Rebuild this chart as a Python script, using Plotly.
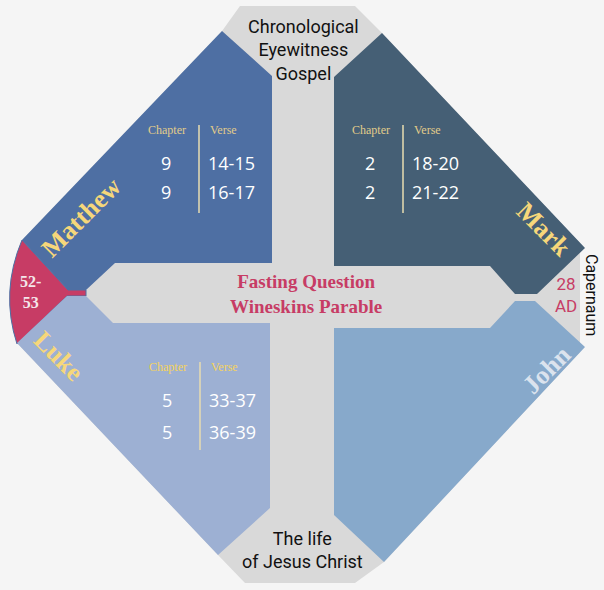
import plotly.graph_objects as go

# gospel passages: the fasting question / wineskins parable
gospels = ["Matthew", "Mark", "Luke", "John"]
chapters = {"Matthew": ["9", "9"], "Mark": ["2", "2"], "Luke": ["5", "5"]}
verses = {"Matthew": ["14-15", "16-17"], "Mark": ["18-20", "21-22"], "Luke": ["33-37", "36-39"]}
top_label = ["Chronological", "Eyewitness", "Gospel"]
bottom_label = ["The life", "of Jesus Christ"]
center_label = ["Fasting Question", "Wineskins Parable"]
date_left = ["52-", "53"]
date_right = ["28", "AD"]
place = "Capernaum"

BG = "#f5f5f5"
GRAY = "#d9d9d9"
RED = "#c73c65"
colors = {"Matthew": "#4e6fa3", "Mark": "#455f75", "Luke": "#9db0d3", "John": "#87a9cb"}
GOLD = "#f6d77a"

# outline geometry in page pixels
poly = {
    "gray": [(240, 6), (355, 6), (382, 33), (580, 243), (580, 352), (384, 562),
             (355, 583), (245, 583), (218, 555), (17, 343), (22, 240), (222, 31)],
    "Matthew": [(222, 31), (272, 76), (272, 263), (115, 263), (86, 290), (68, 290), (22, 240)],
    "Mark": [(382, 33), (585, 248), (537, 294), (515, 294), (490, 266), (334, 266), (334, 77)],
    "Luke": [(17, 343), (67, 296), (86, 296), (113, 323), (270, 323), (270, 508), (218, 555)],
    "John": [(334, 328), (490, 328), (515, 301), (535, 301), (585, 347), (384, 562), (334, 515)],
}


def path(pts):
    return "M " + " L ".join(f"{x},{y}" for x, y in pts) + " Z"


fig = go.Figure()
fig.add_trace(go.Scatter(x=[0, 604], y=[0, 590], mode="markers", marker=dict(opacity=0),
                         hoverinfo="skip", showlegend=False))

shapes = [dict(type="path", path=path(poly["gray"]), fillcolor=GRAY, line=dict(width=0), layer="below")]
# red date wedge on the left
shapes.append(dict(type="path", path="M 22,240 Q 0,292 17,344 L 67,296 L 86,296 L 86,290 L 68,290 Z",
                   fillcolor=RED, line=dict(color="#4e6fa3", width=1), layer="below"))
for g in gospels:
    shapes.append(dict(type="path", path=path(poly[g]), fillcolor=colors[g], line=dict(width=0), layer="below"))

# chapter / verse separators
table_pos = {"Matthew": (199, 125, 213), "Mark": (403, 125, 213), "Luke": (200, 362, 450)}
for g, (x, y0, y1) in table_pos.items():
    shapes.append(dict(type="line", x0=x, x1=x, y0=y0, y1=y1, line=dict(color="#e8dcb0", width=1.5)))

ann = []


def txt(x, y, s, size, color, family="Liberation Serif", angle=0, bold=False):
    if bold:
        s = f"<b>{s}</b>"
    ann.append(dict(x=x, y=y, text=s, showarrow=False, textangle=angle,
                    font=dict(size=size, color=color, family=family),
                    xanchor="center", yanchor="middle"))


sans = "Roboto"
txt(303, 50, "<br>".join(top_label), 18, "#111111", sans)
txt(302, 550, "<br>".join(bottom_label), 18, "#111111", sans)
txt(306, 294, "<br>".join(center_label), 19, RED, bold=True)
txt(30, 292, "<br>".join(date_left), 16, "#f4e6ea", bold=True)
txt(566, 295, "<br>".join(date_right), 17, RED, sans)
txt(592, 295, place, 16, "#111111", sans, angle=90)

# gospel names
txt(81, 217, gospels[0], 26, GOLD, angle=-45, bold=True)
txt(544, 229, gospels[1], 26, GOLD, angle=45, bold=True)
txt(59, 356, gospels[2], 26, GOLD, angle=45, bold=True)
txt(546, 370, gospels[3], 26, "#dbe3ee", angle=-45, bold=True)

head_col = {"Matthew": "#e2cc8a", "Mark": "#e2cc8a", "Luke": "#f5d35c"}
for g, (x, y0, y1) in table_pos.items():
    txt(x - 32, y0 + 5, "Chapter", 12, head_col[g])
    txt(x + 24, y0 + 5, "Verse", 12, head_col[g])
    for i in range(2):
        yy = y0 + 38 + i * (29 if g != "Luke" else 32)
        txt(x - 33, yy, chapters[g][i], 18, "white", "Open Sans")
        txt(x + 32, yy, verses[g][i], 18, "white", "Open Sans")

fig.update_layout(
    width=604, height=590, margin=dict(l=0, r=0, t=0, b=0),
    paper_bgcolor=BG, plot_bgcolor=BG, shapes=shapes, annotations=ann,
    xaxis=dict(range=[0, 604], visible=False, fixedrange=True),
    yaxis=dict(range=[590, 0], visible=False, fixedrange=True),
    showlegend=False,
)
fig.write_html("out.html", config={"displayModeBar": False},
               post_script="document.body.style.margin='0';document.body.style.background='#f5f5f5';")
